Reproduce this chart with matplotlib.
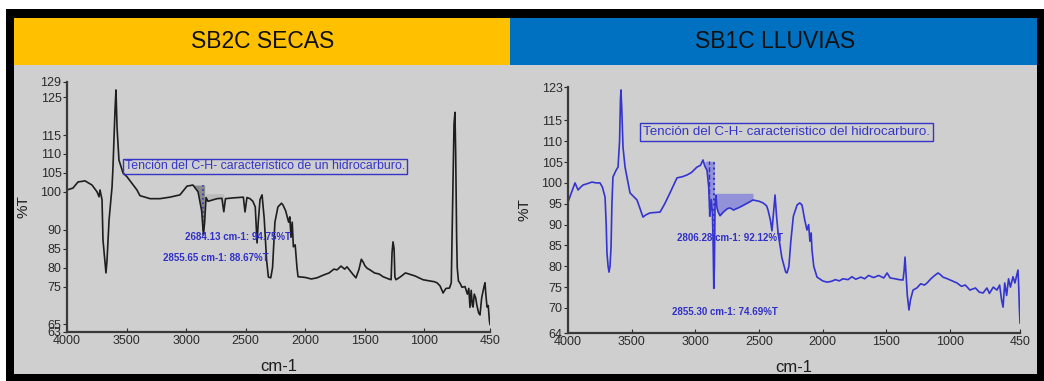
import numpy as np
import matplotlib
matplotlib.use("Agg")
import matplotlib.pyplot as plt
from matplotlib.patches import Rectangle

plt.rcParams['font.family'] = ['Liberation Sans', 'DejaVu Sans']

W, H = 1044, 381

# dry season spectrum (wavenumber cm-1, %T)
secas_wn = [4000, 3950, 3908, 3849, 3790, 3748, 3731, 3723, 3706, 3698, 3673, 3664, 3647,
            3622, 3614, 3597, 3589, 3580, 3564, 3530, 3497, 3413, 3388, 3303, 3220, 3136,
            3052, 2993, 2943, 2900, 2870, 2855, 2845, 2833, 2817, 2741, 2700, 2684, 2670,
            2607, 2520, 2506, 2490, 2464, 2440, 2420, 2405, 2395, 2380, 2363, 2345, 2325,
            2310, 2290, 2275, 2255, 2230, 2200, 2187, 2165, 2140, 2130, 2120, 2110, 2100,
            2085, 2070, 2061, 2000, 1950, 1902, 1850, 1800, 1760, 1734, 1700, 1670, 1650,
            1620, 1600, 1575, 1550, 1530, 1515, 1500, 1480, 1457, 1420, 1380, 1348, 1300,
            1280, 1272, 1264, 1255, 1248, 1239, 1200, 1160, 1121, 1080, 1040, 1012, 960,
            920, 895, 870, 850, 844, 820, 790, 775, 765, 752, 744, 738, 730, 725, 715, 700,
            685, 660, 640, 628, 618, 608, 598, 592, 582, 570, 560, 545, 534, 520, 500, 492,
            485, 475, 465, 455, 450]
secas_t = [100.5, 101, 102.6, 102.9, 101.8, 100, 98.7, 100.5, 97.9, 87.3, 78.6, 82, 92.6,
           101.3, 106.6, 121.6, 126.9, 117, 108.4, 105, 104, 100.5, 99, 98.2, 98.2, 98.6,
           99.2, 101.5, 101.8, 100, 95, 88.67, 92, 98.5, 97.5, 98.2, 98.3, 94.75, 98.2,
           98.4, 98.6, 94.7, 98.5, 98.2, 97.5, 96, 86.5, 92, 98, 99.2, 93, 82, 77.5, 77.3,
           80, 92, 96, 97, 96.5, 95, 92, 93.4, 88, 92, 85.5, 86, 80, 77.6, 77.4, 77.0,
           77.3, 78, 78.6, 79.6, 79.4, 80.4, 79.6, 80.2, 79, 78.2, 77.3, 79.5, 82.2, 81.5,
           80.5, 79.8, 79.4, 78.6, 78.3, 77.6, 77, 76.8, 84, 86.8, 85, 77.5, 76.8, 77.6,
           78.6, 78.2, 77.8, 77.2, 76.8, 76.5, 76.3, 76, 75.2, 73.8, 73.3, 74.5, 74.6, 76,
           95, 118, 121, 110, 88, 80, 76.5, 75.8, 74.8, 75, 73, 74.5, 69.5, 74, 70, 69.6,
           73, 72, 70, 68, 67.5, 72, 75, 76, 73, 69.6, 70, 66, 65]

# rainy season spectrum (wavenumber cm-1, %T)
lluvias_wn = [4000, 3975, 3945, 3921, 3900, 3882, 3850, 3812, 3780, 3749, 3730, 3709, 3700,
              3694, 3685, 3678, 3670, 3662, 3655, 3647, 3623, 3607, 3595, 3588, 3584, 3578,
              3568, 3552, 3513, 3458, 3430, 3411, 3390, 3356, 3277, 3240, 3199, 3144, 3100,
              3065, 3030, 2987, 2960, 2940, 2925, 2908, 2895, 2885, 2875, 2866, 2860, 2855,
              2850, 2845, 2838, 2830, 2820, 2806, 2780, 2750, 2728, 2700, 2649, 2600, 2547,
              2500, 2468, 2440, 2429, 2410, 2398, 2385, 2374, 2362, 2350, 2320, 2290, 2280,
              2265, 2250, 2230, 2201, 2180, 2162, 2140, 2123, 2110, 2100, 2090, 2084, 2070,
              2044, 2000, 1966, 1930, 1900, 1870, 1840, 1800, 1770, 1740, 1700, 1670, 1640,
              1600, 1560, 1520, 1494, 1470, 1430, 1400, 1369, 1360, 1353, 1345, 1335, 1322,
              1310, 1290, 1260, 1230, 1200, 1180, 1150, 1120, 1094, 1075, 1055, 1020, 990,
              945, 910, 880, 843, 800, 770, 740, 710, 690, 660, 631, 610, 595, 583, 570, 555,
              540, 525, 505, 490, 475, 466, 460, 455, 450]
lluvias_t = [95.4, 97.5, 100, 98.3, 99, 99.5, 99.8, 100.2, 100, 100, 99, 96.6, 90, 83.2, 80,
             78.6, 80, 84.6, 95, 101.4, 103, 103.8, 110, 120, 122.3, 118, 108.6, 103.8, 97.6,
             95.9, 93.5, 91.8, 92.3, 92.8, 93, 95, 97.6, 101.2, 101.5, 101.9, 102.5, 103.8,
             104.2, 105.5, 104, 103, 99, 92, 96, 93, 85, 74.69, 80, 95, 97, 94, 93, 92.12,
             93, 93.8, 94, 93.5, 94.2, 95, 95.9, 95.6, 95.2, 94.5, 93.5, 91, 88.5, 93, 97.1,
             92, 88, 82, 78.6, 78.4, 80, 86, 92, 94.7, 95.2, 94.7, 91, 88.7, 90, 86, 88, 84,
             80, 77.4, 76.5, 76.2, 76.4, 76.8, 76.5, 77, 76.8, 77.5, 76.9, 77.4, 77, 77.8,
             77.3, 77.8, 77.2, 78.4, 77.2, 77, 76.8, 76.7, 79, 82.2, 78, 73, 69.5, 72, 74.3,
             74.8, 75.8, 75.5, 76, 77, 77.8, 78.4, 78, 77.4, 77, 76.6, 76, 75.2, 75.5, 74.3,
             74.8, 73.8, 73.6, 74.8, 73.5, 75, 74.3, 75.5, 72, 70.2, 76, 73, 77, 75, 77.5,
             76, 78, 79.1, 75, 70, 66.4]

x_ticks = [4000, 3500, 3000, 2500, 2000, 1500, 1000, 450]
secas_yticks = [63, 65, 75, 80, 85, 90, 100, 105, 110, 115, 125, 129]
lluvias_yticks = [64, 70, 75, 80, 85, 90, 95, 100, 105, 110, 115, 123]

secas_peaks = ["2684.13 cm-1: 94.75%T", "2855.65 cm-1: 88.67%T"]
lluvias_peaks = ["2806.28 cm-1: 92.12%T", "2855.30 cm-1: 74.69%T"]


def fx(px):
    return px / W


def fy(py):
    return 1 - py / H


fig = plt.figure(figsize=(W / 100, H / 100), dpi=100)
fig.patch.set_facecolor('white')


def block(x0, y0, x1, y1, color):
    # rectangle given in pixel corners (top-left origin), kept behind the axes
    fig.add_artist(Rectangle((fx(x0), fy(y1)), fx(x1 - x0), fy(y0) - fy(y1),
                             transform=fig.transFigure, facecolor=color,
                             edgecolor='none', zorder=-10))


block(6, 9, 1044, 381, 'black')
block(14, 65, 1037, 374, '#cfcfcf')
block(14, 18, 510, 65, '#ffc000')
block(510, 18, 1037, 65, '#0070c0')
head = dict(ha='center', va='center', fontsize=16.5, color='#111111')
fig.text(fx(263), fy(42), "SB2C SECAS", **head)
fig.text(fx(775), fy(42), "SB1C LLUVIAS", **head)


def setup(ax, yticks):
    ax.set_facecolor('none')
    ax.set_xlim(4000, 450)
    ax.set_ylim(yticks[0], yticks[-1])
    ax.set_xticks(x_ticks)
    ax.set_yticks(yticks)
    for s in ['top', 'right']:
        ax.spines[s].set_visible(False)
    for s in ['left', 'bottom']:
        ax.spines[s].set_color('#3a3a3a')
        ax.spines[s].set_linewidth(1.6)
    ax.tick_params(axis='x', direction='in', length=3, labelsize=9, colors='#2a2a2a', pad=2)
    ax.tick_params(axis='y', direction='out', length=3, labelsize=9, colors='#2a2a2a', pad=1)
    ax.set_xlabel("cm-1", fontsize=12, color='#1e1e1e', labelpad=9)
    ax.set_ylabel("%T", fontsize=11, color='#1e1e1e', labelpad=7)


# left panel: dry season
ax1 = fig.add_axes([fx(67), fy(332), fx(490 - 67), fy(82) - fy(332)])
setup(ax1, secas_yticks)
wn1 = np.array(secas_wn, dtype=float)
t1 = np.array(secas_t, dtype=float)
band = (wn1 <= 2950) & (wn1 >= 2840)
ax1.fill_between(wn1, t1, 101.8, where=band, color='#7a7a7a', alpha=0.8, lw=0)
band2 = (wn1 <= 2840) & (wn1 >= 2680)
ax1.fill_between(wn1, t1, 99.5, where=band2, color='#b0b0b0', alpha=0.6, lw=0)
ax1.vlines(2855, 88.67, 101.8, colors='#3030c0', linestyles=':', lw=1.2)
ax1.plot(wn1, t1, color='#1e1e1e', lw=1.2)
ax1.text(3513, 106.7, "Tención del C-H- caracteristico de un hidrocarburo.",
         fontsize=8.9, color='#3535c8', ha='left', va='center',
         bbox=dict(boxstyle='square,pad=0.15', fc='none', ec='#3535c8', lw=1))
ax1.text(3010, 88.1, secas_peaks[0], fontsize=7, fontweight='bold', color='#3030c8',
         ha='left', va='center')
ax1.text(3194, 82.6, secas_peaks[1], fontsize=7, fontweight='bold', color='#3030c8',
         ha='left', va='center')

# right panel: rainy season
ax2 = fig.add_axes([fx(568), fy(333), fx(1020 - 568), fy(87) - fy(333)])
setup(ax2, lluvias_yticks)
wn2 = np.array(lluvias_wn, dtype=float)
t2 = np.array(lluvias_t, dtype=float)
band = (wn2 <= 2925) & (wn2 >= 2850)
ax2.fill_between(wn2, t2, 105.2, where=band, color='#6a6ae0', alpha=0.6, lw=0)
band2 = (wn2 <= 2845) & (wn2 >= 2530)
ax2.fill_between(wn2, t2, 97.5, where=band2, color='#6a6ae0', alpha=0.6, lw=0)
ax2.vlines(2855, 74.69, 105.2, colors='#3030c8', linestyles=':', lw=1.4)
ax2.vlines(2890, 92, 105.2, colors='#3030c8', linestyles='--', lw=1.0)
ax2.plot(wn2, t2, color='#3434d0', lw=1.2)
ax2.text(3411, 112.2, "Tención del C-H- caracteristico del hidrocarburo.",
         fontsize=9.6, color='#3535c8', ha='left', va='center',
         bbox=dict(boxstyle='square,pad=0.2', fc='none', ec='#3535c8', lw=1))
ax2.text(3144, 86.8, lluvias_peaks[0], fontsize=7, fontweight='bold', color='#3030c8',
         ha='left', va='center')
ax2.text(3183, 69.0, lluvias_peaks[1], fontsize=7, fontweight='bold', color='#3030c8',
         ha='left', va='center')

fig.savefig("out.png", dpi=100)
